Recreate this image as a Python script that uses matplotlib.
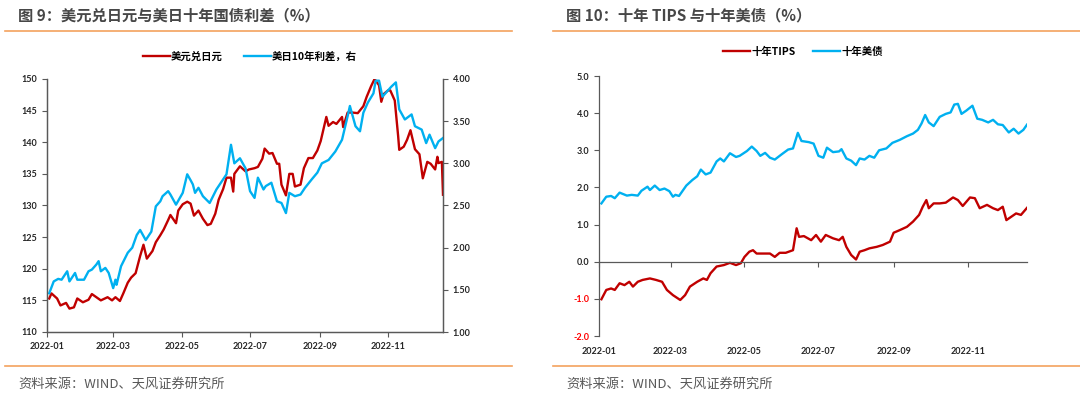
import matplotlib
matplotlib.use("Agg")
import matplotlib.pyplot as plt
import matplotlib.dates as mdates
from matplotlib.lines import Line2D
import pandas as pd

plt.rcParams['font.family'] = ['Lato', 'Noto Sans CJK SC', 'DejaVu Sans']
plt.rcParams['axes.unicode_minus'] = False

# ---- data: fig 9, USD/JPY (left axis) ----
usdjpy_dates = [
    "2022-01-03", "2022-01-05", "2022-01-10", "2022-01-13", "2022-01-18", "2022-01-21",
    "2022-01-25", "2022-01-28", "2022-02-02", "2022-02-07", "2022-02-10", "2022-02-14",
    "2022-02-18", "2022-02-24", "2022-02-28", "2022-03-03", "2022-03-07", "2022-03-10",
    "2022-03-14", "2022-03-17", "2022-03-21", "2022-03-25", "2022-03-28", "2022-03-31",
    "2022-04-05", "2022-04-08", "2022-04-12", "2022-04-15", "2022-04-19", "2022-04-21",
    "2022-04-26", "2022-04-28", "2022-05-02", "2022-05-06", "2022-05-09", "2022-05-12",
    "2022-05-16", "2022-05-20", "2022-05-24", "2022-05-27", "2022-05-31", "2022-06-03",
    "2022-06-07", "2022-06-10", "2022-06-14", "2022-06-16", "2022-06-17", "2022-06-22",
    "2022-06-27", "2022-06-30", "2022-07-05", "2022-07-08", "2022-07-12", "2022-07-14",
    "2022-07-18", "2022-07-21", "2022-07-25", "2022-07-27", "2022-07-29", "2022-08-02",
    "2022-08-05", "2022-08-08", "2022-08-10", "2022-08-15", "2022-08-18", "2022-08-22",
    "2022-08-26", "2022-08-30", "2022-09-02", "2022-09-07", "2022-09-09", "2022-09-13",
    "2022-09-16", "2022-09-21", "2022-09-22", "2022-09-26", "2022-09-30", "2022-10-05",
    "2022-10-10", "2022-10-13", "2022-10-17", "2022-10-20", "2022-10-24", "2022-10-26",
    "2022-10-28", "2022-11-01", "2022-11-03", "2022-11-07", "2022-11-10", "2022-11-11",
    "2022-11-15", "2022-11-18", "2022-11-21", "2022-11-25", "2022-11-29", "2022-12-02",
    "2022-12-06", "2022-12-09", "2022-12-13", "2022-12-15", "2022-12-16", "2022-12-19",
    "2022-12-20",
]
usdjpy = [
    115.3, 116.1, 115.3, 114.2, 114.6, 113.7,
    113.9, 115.3, 114.7, 115.1, 116.0, 115.5,
    115.0, 115.5, 115.0, 115.5, 114.9, 116.1,
    117.8, 118.6, 119.3, 122.0, 123.8, 121.6,
    122.8, 124.2, 125.3, 126.2, 127.7, 128.5,
    127.2, 129.2, 130.2, 130.6, 130.3, 128.4,
    129.2, 127.9, 126.9, 127.1, 128.7, 130.9,
    132.6, 134.4, 134.4, 132.2, 135.0, 136.2,
    135.4, 135.7, 135.9, 136.1, 137.4, 139.0,
    138.2, 138.3, 136.6, 136.6, 133.3, 131.6,
    135.0, 135.0, 133.0, 133.3, 135.9, 137.5,
    137.5, 138.7, 140.2, 144.0, 142.6, 143.2,
    142.9, 144.0, 142.4, 144.7, 144.7, 144.6,
    145.7, 147.2, 148.9, 150.0, 149.0, 146.4,
    147.6, 148.2, 148.2, 146.6, 141.0, 138.8,
    139.3, 140.4, 141.9, 138.9, 138.1, 134.3,
    136.9, 136.6, 135.7, 137.7, 136.7, 136.9,
    131.7,
]

# ---- data: fig 9, US-Japan 10y spread (right axis) ----
spread_dates = [
    "2022-01-03", "2022-01-07", "2022-01-11", "2022-01-14", "2022-01-19", "2022-01-21",
    "2022-01-26", "2022-01-28", "2022-02-03", "2022-02-07", "2022-02-10", "2022-02-14",
    "2022-02-16", "2022-02-18", "2022-02-22", "2022-02-25", "2022-03-01", "2022-03-03",
    "2022-03-04", "2022-03-08", "2022-03-11", "2022-03-14", "2022-03-18", "2022-03-22",
    "2022-03-25", "2022-03-30", "2022-04-04", "2022-04-08", "2022-04-12", "2022-04-14",
    "2022-04-19", "2022-04-21", "2022-04-26", "2022-05-02", "2022-05-06", "2022-05-09",
    "2022-05-11", "2022-05-13", "2022-05-16", "2022-05-20", "2022-05-26", "2022-06-01",
    "2022-06-07", "2022-06-10", "2022-06-14", "2022-06-17", "2022-06-22", "2022-06-27",
    "2022-07-01", "2022-07-05", "2022-07-08", "2022-07-13", "2022-07-15", "2022-07-20",
    "2022-07-25", "2022-07-29", "2022-08-02", "2022-08-05", "2022-08-10", "2022-08-15",
    "2022-08-19", "2022-08-25", "2022-08-30", "2022-09-03", "2022-09-09", "2022-09-15",
    "2022-09-21", "2022-09-26", "2022-09-28", "2022-10-03", "2022-10-07", "2022-10-10",
    "2022-10-14", "2022-10-19", "2022-10-21", "2022-10-24", "2022-10-27", "2022-10-31",
    "2022-11-04", "2022-11-08", "2022-11-11", "2022-11-16", "2022-11-22", "2022-11-25",
    "2022-12-01", "2022-12-05", "2022-12-08", "2022-12-13", "2022-12-16", "2022-12-20",
]
spread = [
    1.46, 1.60, 1.63, 1.62, 1.72, 1.60,
    1.70, 1.62, 1.62, 1.72, 1.74, 1.80,
    1.84, 1.72, 1.76, 1.70, 1.52, 1.62,
    1.56, 1.78, 1.86, 1.94, 2.00, 2.15,
    2.21, 2.09, 2.19, 2.49, 2.55, 2.61,
    2.67, 2.63, 2.51, 2.65, 2.87, 2.80,
    2.75, 2.65, 2.71, 2.61, 2.53, 2.69,
    2.81, 2.87, 3.22, 3.00, 3.06, 2.94,
    2.67, 2.59, 2.83, 2.69, 2.73, 2.77,
    2.55, 2.53, 2.41, 2.65, 2.61, 2.63,
    2.71, 2.81, 2.89, 3.00, 3.04, 3.14,
    3.28, 3.56, 3.68, 3.44, 3.38, 3.60,
    3.72, 3.83, 3.98, 3.98, 3.79, 3.85,
    3.91, 3.96, 3.64, 3.52, 3.58, 3.44,
    3.40, 3.24, 3.34, 3.18, 3.26, 3.30,
]

# ---- data: fig 10, 10y TIPS and 10y UST ----
us_dates = [
    "2022-01-03", "2022-01-07", "2022-01-11", "2022-01-14", "2022-01-18", "2022-01-24",
    "2022-01-28", "2022-02-02", "2022-02-05", "2022-02-10", "2022-02-12", "2022-02-16",
    "2022-02-20", "2022-02-24", "2022-02-28", "2022-03-03", "2022-03-05", "2022-03-08",
    "2022-03-14", "2022-03-19", "2022-03-23", "2022-03-26", "2022-03-30", "2022-04-03",
    "2022-04-08", "2022-04-11", "2022-04-14", "2022-04-19", "2022-04-24", "2022-04-27",
    "2022-05-03", "2022-05-07", "2022-05-11", "2022-05-14", "2022-05-18", "2022-05-22",
    "2022-05-26", "2022-06-01", "2022-06-06", "2022-06-10", "2022-06-14", "2022-06-17",
    "2022-06-23", "2022-06-27", "2022-07-01", "2022-07-05", "2022-07-08", "2022-07-13",
    "2022-07-18", "2022-07-20", "2022-07-24", "2022-07-28", "2022-08-01", "2022-08-04",
    "2022-08-08", "2022-08-12", "2022-08-16", "2022-08-20", "2022-08-26", "2022-08-31",
    "2022-09-06", "2022-09-12", "2022-09-17", "2022-09-21", "2022-09-24", "2022-09-27",
    "2022-09-30", "2022-10-04", "2022-10-09", "2022-10-14", "2022-10-18", "2022-10-21",
    "2022-10-24", "2022-10-27", "2022-10-31", "2022-11-05", "2022-11-09", "2022-11-13",
    "2022-11-18", "2022-11-22", "2022-11-26", "2022-11-30", "2022-12-05", "2022-12-09",
    "2022-12-13", "2022-12-17", "2022-12-20",
]
ust10 = [
    1.57, 1.75, 1.77, 1.71, 1.86, 1.78,
    1.80, 1.78, 1.91, 2.02, 1.93, 2.05,
    1.93, 1.97, 1.90, 1.75, 1.80, 1.77,
    2.05, 2.20, 2.30, 2.48, 2.35, 2.40,
    2.70, 2.78, 2.70, 2.92, 2.82, 2.85,
    2.98, 3.10, 2.98, 2.85, 2.93, 2.80,
    2.75, 2.90, 3.02, 3.05, 3.47, 3.25,
    3.22, 3.18, 2.85, 2.80, 3.07, 2.95,
    2.97, 3.03, 2.78, 2.72, 2.60, 2.78,
    2.75, 2.85, 2.80, 3.00, 3.05, 3.20,
    3.28, 3.38, 3.45, 3.55, 3.72, 3.95,
    3.75, 3.65, 3.90, 3.98, 4.02, 4.23,
    4.25, 3.98, 4.07, 4.20, 3.85, 3.82,
    3.75, 3.82, 3.70, 3.68, 3.48, 3.58,
    3.45, 3.55, 3.69,
]

tips_dates = [
    "2022-01-03", "2022-01-07", "2022-01-11", "2022-01-14", "2022-01-18", "2022-01-22",
    "2022-01-26", "2022-01-29", "2022-02-02", "2022-02-06", "2022-02-12", "2022-02-17",
    "2022-02-22", "2022-02-26", "2022-03-03", "2022-03-09", "2022-03-13", "2022-03-17",
    "2022-03-23", "2022-03-28", "2022-03-31", "2022-04-03", "2022-04-08", "2022-04-14",
    "2022-04-19", "2022-04-24", "2022-04-28", "2022-05-01", "2022-05-05", "2022-05-08",
    "2022-05-11", "2022-05-16", "2022-05-22", "2022-05-26", "2022-05-30", "2022-06-04",
    "2022-06-10", "2022-06-13", "2022-06-15", "2022-06-19", "2022-06-25", "2022-06-29",
    "2022-07-03", "2022-07-07", "2022-07-13", "2022-07-18", "2022-07-21", "2022-07-24",
    "2022-07-28", "2022-08-01", "2022-08-04", "2022-08-08", "2022-08-12", "2022-08-18",
    "2022-08-23", "2022-08-29", "2022-09-01", "2022-09-06", "2022-09-12", "2022-09-17",
    "2022-09-22", "2022-09-25", "2022-09-28", "2022-09-30", "2022-10-04", "2022-10-09",
    "2022-10-14", "2022-10-20", "2022-10-24", "2022-10-28", "2022-11-03", "2022-11-07",
    "2022-11-11", "2022-11-17", "2022-11-22", "2022-11-26", "2022-11-30", "2022-12-03",
    "2022-12-07", "2022-12-11", "2022-12-15", "2022-12-20",
]
tips10 = [
    -1.01, -0.76, -0.72, -0.76, -0.58, -0.63,
    -0.54, -0.67, -0.54, -0.49, -0.45, -0.49,
    -0.54, -0.76, -0.90, -1.03, -0.90, -0.67,
    -0.54, -0.45, -0.49, -0.31, -0.13, -0.09,
    -0.03, -0.09, -0.04, 0.13, 0.27, 0.31,
    0.22, 0.22, 0.22, 0.13, 0.24, 0.24,
    0.31, 0.90, 0.67, 0.69, 0.58, 0.72,
    0.54, 0.72, 0.63, 0.58, 0.67, 0.40,
    0.18, 0.06, 0.27, 0.31, 0.36, 0.40,
    0.45, 0.54, 0.78, 0.85, 0.94, 1.08,
    1.26, 1.48, 1.66, 1.44, 1.57, 1.57,
    1.59, 1.73, 1.66, 1.50, 1.73, 1.71,
    1.44, 1.53, 1.44, 1.39, 1.48, 1.12,
    1.21, 1.30, 1.26, 1.45,
]

RED = '#C00000'
BLUE = '#00B0F0'
AXC = '#595959'
TXT = '#262626'
ORANGE = '#F4A25E'
W, H = 1080, 398

fig = plt.figure(figsize=(W / 100, H / 100), dpi=100)


def px_box(x0, x1, y0, y1):
    return [x0 / W, 1 - y1 / H, (x1 - x0) / W, (y1 - y0) / H]


def style_dates(ax):
    ax.set_xlim(pd.Timestamp("2022-01-01"), pd.Timestamp("2022-12-20"))
    ax.xaxis.set_major_locator(mdates.MonthLocator(bymonth=[1, 3, 5, 7, 9, 11]))
    ax.xaxis.set_major_formatter(mdates.DateFormatter('%Y-%m'))


def tick_style(ax, which):
    ax.tick_params(axis=which, labelsize=6.5, colors=AXC, labelcolor=TXT,
                   length=3.5, width=0.8, direction='out')
    labels = ax.get_xticklabels() if which == 'x' else ax.get_yticklabels()
    for t in labels:
        t.set_fontweight('bold')


# ---------- figure 9 ----------
ax1 = fig.add_axes(px_box(47, 443, 79, 332))
ax2 = ax1.twinx()
l1, = ax1.plot(pd.to_datetime(usdjpy_dates), usdjpy, color=RED, lw=1.7,
               label='美元兑日元')
l2, = ax2.plot(pd.to_datetime(spread_dates), spread, color=BLUE, lw=1.7,
               label='美日10年利差，右')
style_dates(ax1)
ax1.set_ylim(110, 150)
ax1.set_yticks(range(110, 151, 5))
ax2.set_ylim(1.0, 4.0)
ax2.set_yticks([1.0, 1.5, 2.0, 2.5, 3.0, 3.5, 4.0])
ax2.yaxis.set_major_formatter(plt.FormatStrFormatter('%.2f'))
for a in (ax1, ax2):
    a.spines['top'].set_visible(False)
    for s in a.spines.values():
        s.set_color(AXC)
        s.set_linewidth(0.9)
    a.patch.set_visible(False)
tick_style(ax1, 'x')
tick_style(ax1, 'y')
tick_style(ax2, 'y')
ax1.tick_params(axis='x', pad=4)
fig.legend(handles=[l1, l2], loc='center', bbox_to_anchor=(250 / W, 1 - 57 / H),
           ncol=2, frameon=False, handlelength=2.6, columnspacing=2.0,
           handletextpad=0.1, prop={'size': 7.5, 'weight': 'bold',
                                    'family': ['Noto Sans CJK SC']})

# ---------- figure 10 ----------
ax3 = fig.add_axes(px_box(599, 1027, 76, 336))
l3, = ax3.plot(pd.to_datetime(tips_dates), tips10, color=RED, lw=1.7, label='十年TIPS')
l4, = ax3.plot(pd.to_datetime(us_dates), ust10, color=BLUE, lw=1.7, label='十年美债')
style_dates(ax3)
ax3.set_ylim(-2.0, 5.0)
ax3.set_yticks([-2, -1, 0, 1, 2, 3, 4, 5])
ax3.yaxis.set_major_formatter(plt.FormatStrFormatter('%.1f'))
for s in ('top', 'right'):
    ax3.spines[s].set_visible(False)
ax3.spines['bottom'].set_position(('data', 0))
for s in ('left', 'bottom'):
    ax3.spines[s].set_color(AXC)
    ax3.spines[s].set_linewidth(0.9)
tick_style(ax3, 'x')
tick_style(ax3, 'y')
ax3.tick_params(axis='x', pad=58)
for t, v in zip(ax3.get_yticklabels(), ax3.get_yticks()):
    if v < 0:
        t.set_color('#FF0000')
fig.legend(handles=[l3, l4], loc='center', bbox_to_anchor=(803 / W, 1 - 52 / H),
           ncol=2, frameon=False, handlelength=2.6, columnspacing=1.7,
           handletextpad=0.1, prop={'size': 7.5, 'weight': 'bold',
                                    'family': ['Noto Sans CJK SC']})

# ---------- titles, rules and sources ----------
titles = ['图 9：美元兑日元与美日十年国债利差（%）', '图 10：十年 TIPS 与十年美债（%）']
title_x = [18, 566]
rule_x = [(5, 512), (553, 1080)]
source = '资料来源：WIND、天风证券研究所'
for tx, (r0, r1), tt in zip(title_x, rule_x, titles):
    fig.text(tx / W, 1 - 15 / H, tt, fontsize=11, color='#474747', va='center',
             ha='left', fontweight='bold', family=['Noto Sans CJK SC'])
    fig.add_artist(Line2D([r0 / W, r1 / W], [1 - 31 / H] * 2, color=ORANGE, lw=1.2))
    fig.add_artist(Line2D([r0 / W, r1 / W], [1 - 366 / H] * 2, color=ORANGE, lw=1.2))
    fig.text(tx / W, 1 - 384 / H, source, fontsize=9.5, color='#595959', va='center',
             ha='left', family=['Noto Sans CJK SC'])

fig.savefig('out.png', dpi=100)
